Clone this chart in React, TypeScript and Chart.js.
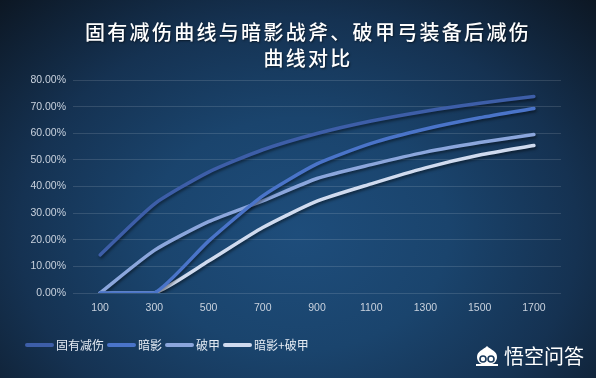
import React, { useEffect, useRef } from "react";
import { Chart, registerables } from "chart.js";

Chart.register(...registerables);

const titleLines = ["固有减伤曲线与暗影战斧、破甲弓装备后减伤", "曲线对比"];
const categories = ["100", "300", "500", "700", "900", "1100", "1300", "1500", "1700"];
const inherentReduction = [14.3, 33.4, 45.4, 53.8, 59.9, 64.6, 68.3, 71.3, 73.8];
const shadowAxe = [0, 0, 19.5, 36.5, 48.5, 56.2, 61.6, 65.8, 69.3];
const armorBreaker = [0, 16.0, 26.8, 34.6, 43.0, 48.2, 52.9, 56.5, 59.5];
const shadowPlusBreaker = [0, 0, 12.0, 24.6, 34.5, 41.0, 47.0, 51.8, 55.4];
const seriesNames = ["固有减伤", "暗影", "破甲", "暗影+破甲"];
const seriesColors = ["#3d5ea8", "#4a74c9", "#8ba6dc", "#d0dbef"];
const yMin = 0;
const yMax = 80;
const yStep = 10;
const watermark = "悟空问答";

const shadowPlugin = {
  id: "lineShadow",
  beforeDatasetDraw(chart: any) {
    const ctx = chart.ctx;
    ctx.save();
    ctx.shadowColor = "rgba(0,0,0,0.45)";
    ctx.shadowBlur = 3;
    ctx.shadowOffsetX = 1;
    ctx.shadowOffsetY = 2;
  },
  afterDatasetDraw(chart: any) {
    chart.ctx.restore();
  },
};

export default function App() {
  const canvasRef = useRef<HTMLCanvasElement | null>(null);

  useEffect(() => {
    if (!canvasRef.current) return;
    const allSeries = [inherentReduction, shadowAxe, armorBreaker, shadowPlusBreaker];
    const chart = new Chart(canvasRef.current, {
      type: "line",
      data: {
        labels: categories,
        datasets: allSeries.map((d, i) => ({
          label: seriesNames[i],
          data: d,
          borderColor: seriesColors[i],
          backgroundColor: seriesColors[i],
          borderWidth: 3.5,
          pointRadius: 0,
          pointHoverRadius: 0,
          tension: 0.2,
          borderCapStyle: "round" as const,
          borderJoinStyle: "round" as const,
          fill: false,
        })),
      },
      options: {
        animation: false,
        responsive: false,
        maintainAspectRatio: false,
        layout: { padding: { left: 0, top: 80, right: 35, bottom: 0 } },
        plugins: {
          legend: { display: false },
          title: { display: false },
          tooltip: { enabled: false },
        },
        scales: {
          x: {
            type: "category",
            offset: true,
            grid: { display: false, drawTicks: false },
            border: { display: false },
            ticks: {
              color: "#c9d2de",
              font: { family: "Liberation Sans", size: 10.5 },
              padding: 9,
              maxRotation: 0,
            },
            afterFit: (s: any) => {
              s.height = 85;
            },
          },
          y: {
            min: yMin,
            max: yMax,
            grid: { color: "rgba(255,255,255,0.13)", lineWidth: 1, drawTicks: false },
            border: { display: false },
            ticks: {
              stepSize: yStep,
              color: "#c9d2de",
              font: { family: "Liberation Sans", size: 10.5 },
              padding: 7,
              callback: (v: any) => Number(v).toFixed(2) + "%",
            },
            afterFit: (s: any) => {
              s.width = 73;
            },
          },
        },
      },
      plugins: [shadowPlugin],
    });
    return () => chart.destroy();
  }, []);

  return (
    <div
      style={{
        position: "fixed",
        left: 0,
        top: 0,
        width: 596,
        height: 378,
        overflow: "hidden",
        background:
          "radial-gradient(ellipse 72% 88% at 50% 62%, #1e4d7b 0%, #1a446d 35%, #153252 65%, #0c1622 100%)",
        fontFamily: "'Noto Sans CJK SC', sans-serif",
      }}
    >
      <canvas
        ref={canvasRef}
        width={596}
        height={378}
        style={{ position: "absolute", left: 0, top: 0, width: 596, height: 378 }}
      />
      <div
        style={{
          position: "absolute",
          left: 10,
          top: 19,
          width: 596,
          textAlign: "center",
          color: "#ffffff",
          fontSize: 20,
          lineHeight: "26px",
          letterSpacing: "2.3px",
          fontWeight: 500,
          textShadow: "1px 1px 2px rgba(0,0,0,0.5)",
        }}
      >
        {titleLines.map((t, i) => (
          <div key={i}>{t}</div>
        ))}
      </div>
      <div
        style={{
          position: "absolute",
          left: 25,
          top: 336,
          display: "flex",
          alignItems: "center",
          color: "#e6ecf4",
          fontSize: 12,
          lineHeight: "18px",
        }}
      >
        {seriesNames.map((n, i) => (
          <div key={i} style={{ display: "flex", alignItems: "center", marginRight: 3 }}>
            <span
              style={{
                display: "inline-block",
                width: 29,
                height: 3.5,
                borderRadius: 2,
                background: seriesColors[i],
                marginRight: 2,
              }}
            />
            <span>{n}</span>
          </div>
        ))}
      </div>
      <div
        style={{
          position: "absolute",
          left: 474,
          top: 343,
          display: "flex",
          alignItems: "center",
          color: "#ffffff",
          fontSize: 20,
          lineHeight: "26px",
        }}
      >
        <svg width="26" height="22" viewBox="0 0 26 22" style={{ marginRight: 4 }}>
          <path d="M13 1 C9 5 3 6 3 12 C3 17 7 20 13 20 C19 20 23 17 23 12 C23 6 17 5 13 1 Z" fill="#ffffff" />
          <circle cx="9" cy="14" r="3" fill="none" stroke="#1a3a5c" strokeWidth="1.6" />
          <circle cx="17" cy="14" r="3" fill="none" stroke="#1a3a5c" strokeWidth="1.6" />
          <rect x="2" y="19" width="22" height="2" fill="#ffffff" />
        </svg>
        <span>{watermark}</span>
      </div>
    </div>
  );
}
